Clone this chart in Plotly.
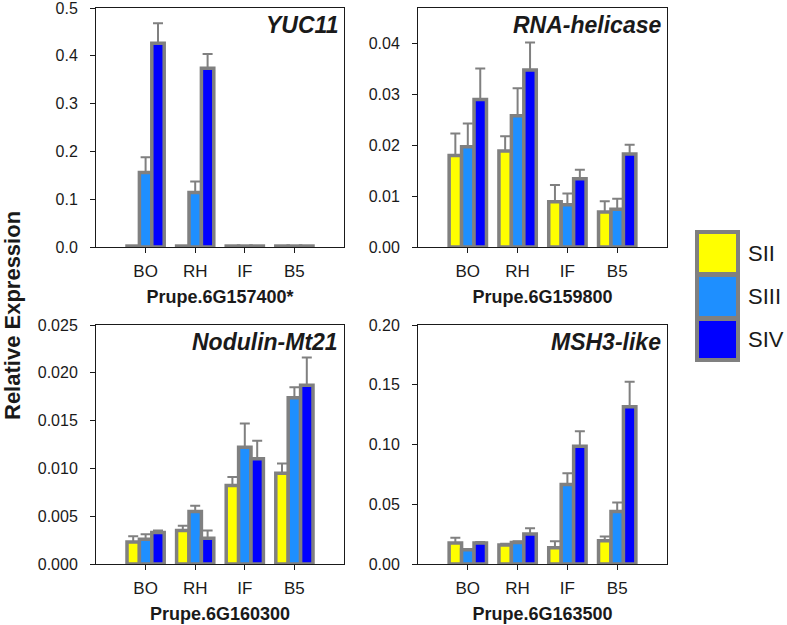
import plotly.graph_objects as go

W, H = 787, 625

categories = ["BO", "RH", "IF", "B5"]
series_names = ["SII", "SIII", "SIV"]
series_colors = ["#FFFF00", "#1E8FFF", "#0000FF"]

# Panel 1: YUC11 (Prupe.6G157400*)
yuc11_sii = [0.002, 0.002, 0.002, 0.002]
yuc11_siii = [0.156, 0.114, 0.002, 0.002]
yuc11_siv = [0.426, 0.374, 0.002, 0.002]
yuc11_sii_err = [0, 0, 0, 0]
yuc11_siii_err = [0.032, 0.023, 0, 0]
yuc11_siv_err = [0.042, 0.030, 0, 0]

# Panel 2: RNA-helicase (Prupe.6G159800)
rna_sii = [0.0180, 0.0189, 0.0089, 0.0069]
rna_siii = [0.0197, 0.0258, 0.0083, 0.0074]
rna_siv = [0.0290, 0.0348, 0.0134, 0.0183]
rna_sii_err = [0.0043, 0.0029, 0.0033, 0.0021]
rna_siii_err = [0.0046, 0.0054, 0.0022, 0.0021]
rna_siv_err = [0.0061, 0.0054, 0.0018, 0.0018]

# Panel 3: Nodulin-Mt21 (Prupe.6G160300)
nod_sii = [0.0023, 0.0035, 0.0082, 0.0095]
nod_siii = [0.0026, 0.0055, 0.0122, 0.0174]
nod_siv = [0.0033, 0.0027, 0.0110, 0.0187]
nod_sii_err = [0.0006, 0.0005, 0.0009, 0.0010]
nod_siii_err = [0.0005, 0.0006, 0.0025, 0.0011]
nod_siv_err = [0.0002, 0.0008, 0.0019, 0.0029]

# Panel 4: MSH3-like (Prupe.6G163500)
msh_sii = [0.0175, 0.0160, 0.0135, 0.0195]
msh_siii = [0.0120, 0.0180, 0.0665, 0.0440]
msh_siv = [0.0175, 0.0250, 0.0985, 0.1315]
msh_sii_err = [0.0045, 0.0010, 0.0055, 0.0035]
msh_siii_err = [0.0000, 0.0010, 0.0095, 0.0075]
msh_siv_err = [0.0010, 0.0050, 0.0125, 0.0210]

panels = [
    dict(title="YUC11", xtitle="Prupe.6G157400*",
         vals=[yuc11_sii, yuc11_siii, yuc11_siv],
         errs=[yuc11_sii_err, yuc11_siii_err, yuc11_siv_err],
         yrange=[0, 0.5], dtick=0.1, fmt=".1f"),
    dict(title="RNA-helicase", xtitle="Prupe.6G159800",
         vals=[rna_sii, rna_siii, rna_siv],
         errs=[rna_sii_err, rna_siii_err, rna_siv_err],
         yrange=[0, 0.047], dtick=0.01, fmt=".2f"),
    dict(title="Nodulin-Mt21", xtitle="Prupe.6G160300",
         vals=[nod_sii, nod_siii, nod_siv],
         errs=[nod_sii_err, nod_siii_err, nod_siv_err],
         yrange=[0, 0.025], dtick=0.005, fmt=".3f"),
    dict(title="MSH3-like", xtitle="Prupe.6G163500",
         vals=[msh_sii, msh_siii, msh_siv],
         errs=[msh_sii_err, msh_siii_err, msh_siv_err],
         yrange=[0, 0.2], dtick=0.05, fmt=".2f"),
]

# pixel boxes of the four plot areas (left, right, top, bottom)
boxes = [(96, 344, 8, 247), (418, 667, 8, 247),
         (96, 344, 325, 564), (418, 667, 325, 564)]


def px(x):
    return x / W


def py(y):
    return 1 - y / H


FONT = "Liberation Sans, Arial, sans-serif"
AX = "#1a1a1a"
GRAY = "#808080"

fig = go.Figure()
layout = dict(
    width=W, height=H, margin=dict(l=0, r=0, t=0, b=0, autoexpand=False),
    paper_bgcolor="white", plot_bgcolor="white",
    barmode="group", bargap=0.25, bargroupgap=0,
    showlegend=False, font=dict(family=FONT, color=AX),
)
annotations = []
shapes = []

for i, (p, box) in enumerate(zip(panels, boxes)):
    n = "" if i == 0 else str(i + 1)
    xa, ya = "x" + n, "y" + n
    for s in range(3):
        fig.add_trace(go.Bar(
            x=categories, y=p["vals"][s], name=series_names[s],
            marker=dict(color=series_colors[s], line=dict(color=GRAY, width=3.5)),
            error_y=dict(type="data", array=p["errs"][s],
                         arrayminus=[0] * len(categories), symmetric=False,
                         color=GRAY, thickness=2, width=5, visible=True),
            xaxis=xa, yaxis=ya, showlegend=False,
        ))
    l, r, t, b = box
    layout["xaxis" + n] = dict(
        domain=[px(l), px(r)], anchor=ya, type="category", automargin=False,
        categoryorder="array", categoryarray=categories,
        range=[-1, 4], showline=True, linecolor=AX, linewidth=1, mirror=True,
        ticks="outside", ticklen=5, tickcolor=AX, showgrid=False, zeroline=False,
        ticklabelstandoff=4, ticklabeloverflow="allow",
        tickfont=dict(size=17, family=FONT, color=AX),
        title=dict(text="<b>%s</b>" % p["xtitle"], font=dict(size=18, family=FONT, color=AX),
                   standoff=9),
    )
    layout["yaxis" + n] = dict(
        domain=[py(b), py(t)], anchor=xa, range=p["yrange"], automargin=False,
        dtick=p["dtick"], tick0=0, tickformat=p["fmt"],
        showline=True, linecolor=AX, linewidth=1, mirror=True,
        ticks="outside", ticklen=5, tickcolor=AX, showgrid=False, zeroline=False,
        ticklabelstandoff=9, ticklabeloverflow="allow",
        tickfont=dict(size=16, family=FONT, color=AX),
    )
    annotations.append(dict(
        text="<b><i>%s</i></b>" % p["title"], xref=xa + " domain", yref=ya + " domain",
        x=0.985, y=1.0, yshift=-2, xanchor="right", yanchor="top", showarrow=False,
        font=dict(size=23, family=FONT, color=AX),
    ))

# y-axis overall title
annotations.append(dict(
    text="<b>Relative Expression</b>", xref="paper", yref="paper",
    x=px(12), y=py(316), textangle=-90, showarrow=False,
    xanchor="center", yanchor="middle", font=dict(size=22, family=FONT, color=AX),
))

# custom legend
lx0, lx1, ly0, ly1 = 695, 740, 230, 362
shapes.append(dict(type="rect", xref="paper", yref="paper",
                   x0=px(lx0), x1=px(lx1), y0=py(ly1), y1=py(ly0),
                   fillcolor=GRAY, line=dict(width=0)))
key_rows = [(234, 272), (277, 316), (321, 358)]
for s, (y0, y1) in enumerate(key_rows):
    shapes.append(dict(type="rect", xref="paper", yref="paper",
                       x0=px(699), x1=px(736), y0=py(y1), y1=py(y0),
                       fillcolor=series_colors[s], line=dict(width=0)))
    annotations.append(dict(
        text=series_names[s], xref="paper", yref="paper",
        x=px(746), y=py((y0 + y1) / 2), xanchor="left", yanchor="middle",
        showarrow=False, font=dict(size=22, family=FONT, color=AX),
    ))

layout["annotations"] = annotations
layout["shapes"] = shapes
fig.update_layout(**layout)
# the page's default 8px body margin would shift the figure; remove it
fig.write_html("out.html", config={"displayModeBar": False},
               post_script="document.body.style.margin='0px';")
